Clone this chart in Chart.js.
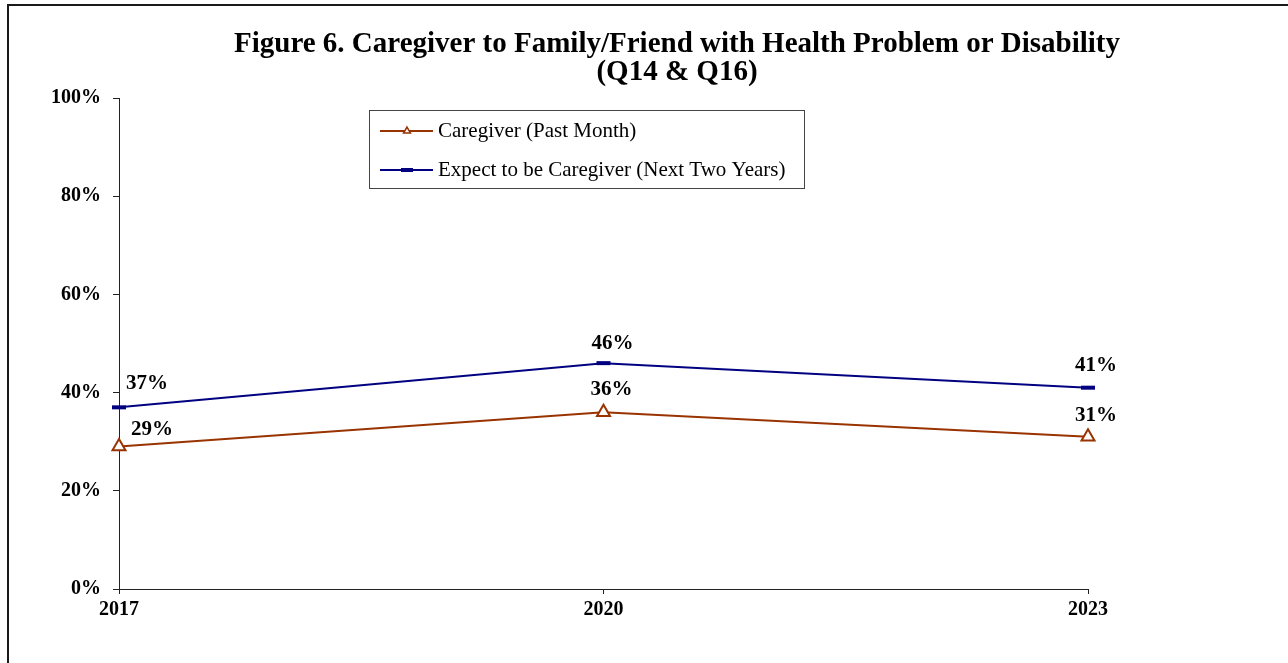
<!DOCTYPE html>
<html>
<head>
<meta charset="utf-8">
<script src="https://cdn.jsdelivr.net/npm/chart.js@4.4.1/dist/chart.umd.min.js"></script>
<style>
    html, body { margin: 0; padding: 0; background: #fff; overflow: hidden; }
    #wrap { position: relative; width: 1288px; height: 663px; }
    #marco { position: absolute; left: 7px; top: 4px; width: 1400px; height: 800px; border: 2px solid #1a1a1a; pointer-events: none; }
</style>
</head>
<body>
<div id="wrap">
    <canvas id="grafico" width="1288" height="663"></canvas>
    <div id="marco"></div>
</div>
<script>
// datos
var years = ['2017', '2020', '2023'];
var caregiverPastMonth = [29, 36, 31];
var expectNextTwoYears = [37, 46, 41];
var yTicks = [0, 20, 40, 60, 80, 100];
var titleLines = ['Figure 6. Caregiver to Family/Friend with Health Problem or Disability', '(Q14 & Q16)'];
var seriesNames = ['Caregiver (Past Month)', 'Expect to be Caregiver (Next Two Years)'];

var NARANJA = '#993300';
var AZUL = '#000080';
var SERIF = '"Liberation Serif", "Times New Roman", serif';

// titulo centrado
var tituloPlugin = {
    id: 'tituloPlugin',
    afterDraw: function (chart) {
        var ctx = chart.ctx;
        ctx.save();
        ctx.fillStyle = '#000';
        ctx.font = 'bold 29px ' + SERIF;
        ctx.textAlign = 'center';
        ctx.textBaseline = 'middle';
        ctx.fillText(titleLines[0], 677, 45);
        ctx.fillText(titleLines[1], 677, 73);
        ctx.restore();
    }
};

// leyenda con recuadro dentro del area
var leyendaPlugin = {
    id: 'leyendaPlugin',
    afterDraw: function (chart) {
        var ctx = chart.ctx;
        ctx.save();
        ctx.strokeStyle = '#444';
        ctx.lineWidth = 1;
        ctx.strokeRect(369.5, 110.5, 435, 78);
        var filas = [
            { y: 131, color: NARANJA, style: 'triangle', radius: 4, bw: 1.5, fill: '#fff' },
            { y: 170, color: AZUL, style: 'line', radius: 6, bw: 4, fill: AZUL }
        ];
        filas.forEach(function (f, i) {
            ctx.strokeStyle = f.color;
            ctx.lineWidth = 2;
            ctx.beginPath();
            ctx.moveTo(380, f.y);
            ctx.lineTo(433, f.y);
            ctx.stroke();
            ctx.fillStyle = f.fill;
            ctx.strokeStyle = f.color;
            ctx.lineWidth = f.bw;
            Chart.helpers.drawPoint(ctx, { pointStyle: f.style, radius: f.radius, borderWidth: f.bw, rotation: 0 }, 407, f.y);
            ctx.fillStyle = '#000';
            ctx.font = '21px ' + SERIF;
            ctx.textAlign = 'left';
            ctx.textBaseline = 'middle';
            ctx.fillText(seriesNames[i], 438, f.y);
        });
        ctx.restore();
    }
};

// etiquetas de valores sobre los puntos
var etiquetasPlugin = {
    id: 'etiquetasPlugin',
    afterDatasetsDraw: function (chart, args, opts) {
        var ctx = chart.ctx;
        ctx.save();
        ctx.fillStyle = '#000';
        ctx.font = 'bold 21px ' + SERIF;
        ctx.textAlign = 'center';
        ctx.textBaseline = 'middle';
        chart.data.datasets.forEach(function (ds, i) {
            var meta = chart.getDatasetMeta(i);
            meta.data.forEach(function (pt, j) {
                var off = opts.offsets[i][j];
                ctx.fillText(ds.data[j] + '%', pt.x + off[0], pt.y + off[1]);
            });
        });
        ctx.restore();
    }
};

var contexto = document.getElementById('grafico').getContext('2d');
var myChart = new Chart(contexto, {
    type: 'line',
    data: {
        labels: years,
        datasets: [
            {
                label: seriesNames[0],
                data: caregiverPastMonth,
                borderColor: NARANJA,
                borderWidth: 2,
                backgroundColor: '#fff',
                pointStyle: 'triangle',
                pointRadius: 7.5,
                pointBorderWidth: 2,
                pointBackgroundColor: '#fff',
                pointBorderColor: NARANJA,
                tension: 0
            },
            {
                label: seriesNames[1],
                data: expectNextTwoYears,
                borderColor: AZUL,
                borderWidth: 2,
                backgroundColor: AZUL,
                pointStyle: 'line',
                pointRadius: 7,
                pointBorderWidth: 4,
                pointBorderColor: AZUL,
                tension: 0
            }
        ]
    },
    options: {
        responsive: false,
        animation: false,
        events: [],
        layout: { padding: { top: 98, right: 200, bottom: 24, left: 0 } },
        plugins: {
            legend: { display: false },
            title: { display: false },
            tooltip: { enabled: false },
            etiquetasPlugin: {
                offsets: [
                    [[33, -17], [8, -23], [8, -21]],
                    [[28, -24], [9, -20], [8, -22]]
                ]
            }
        },
        scales: {
            x: {
                type: 'category',
                offset: false,
                grid: { display: true, drawOnChartArea: false, drawTicks: true, tickLength: 5, color: '#222' },
                border: { display: true, color: '#222', width: 1 },
                ticks: {
                    color: '#000',
                    font: { family: SERIF, size: 20, weight: 'bold' },
                    padding: 4,
                    maxRotation: 0
                },
                afterFit: function (scale) { scale.height = 50; }
            },
            y: {
                min: 0,
                max: 100,
                afterBuildTicks: function (scale) {
                    scale.ticks = yTicks.map(function (v) { return { value: v }; });
                },
                grid: { display: true, drawOnChartArea: false, drawTicks: true, tickLength: 6, color: '#222' },
                border: { display: true, color: '#222', width: 1 },
                ticks: {
                    color: '#000',
                    font: { family: SERIF, size: 20, weight: 'bold' },
                    padding: 12,
                    callback: function (v) { return v + '%'; }
                },
                afterFit: function (scale) { scale.width = 119; }
            }
        }
    },
    plugins: [tituloPlugin, leyendaPlugin, etiquetasPlugin]
});
</script>
</body>
</html>
